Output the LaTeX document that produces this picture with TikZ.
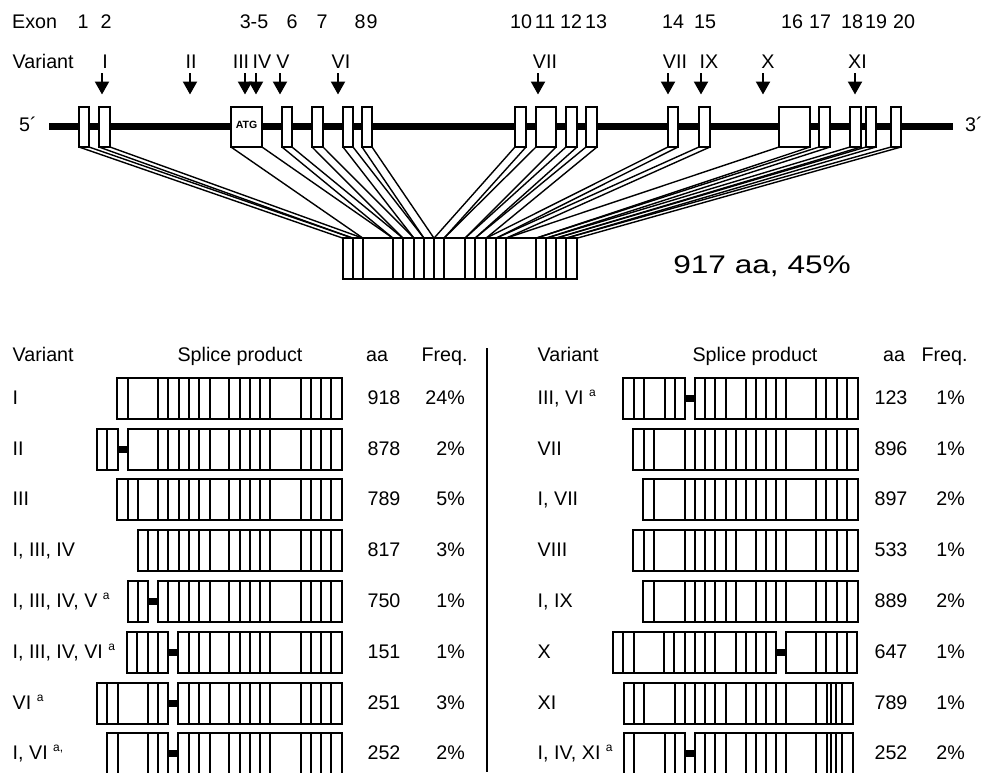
\documentclass[tikz,border=0pt]{standalone}
\usepackage{fontspec}
\setmainfont{Liberation Sans}
\usetikzlibrary{arrows.meta}
\newcommand\supa[1]{\raisebox{8.5pt}{\fontsize{12}{12}\selectfont #1}}
\newcommand\sppiece[4]{%
  \draw[seg] (#2,#1) rectangle (#3,#1+41);
  \foreach \xx in {#4}{\draw[seg] (\xx,#1) -- (\xx,#1+41);}}
\newcommand\spbar[3]{\fill (#2,#1+17) rectangle (#3,#1+24);}
\begin{document}
\begin{tikzpicture}[x=1pt,y=-1pt,
  exon/.style={draw, fill=white, line width=1.8pt, minimum height=40pt, inner sep=0pt, outer sep=0pt},
  pseg/.style={draw, line width=2pt, minimum height=41pt, inner sep=0pt, outer sep=0pt},
  conn/.style={line width=1.4pt},
  gene/.style={line width=6.5pt},
  varrow/.style={line width=2.2pt, -{Triangle[width=14pt,length=13pt]}},
  seg/.style={line width=1.9pt},
  lab/.style={font=\fontsize{19.7}{22}\selectfont, inner sep=0pt, anchor=base}]
\fill[white] (0,0) rectangle (1003,772);
\useasboundingbox (0,0) rectangle (1003,772);

% ---------- gene ----------
\coordinate (g5) at (49,126.7);
\coordinate (g3) at (953,126.7);
\draw[gene] (g5) -- (g3);
\foreach \a/\b [count=\i] in {79/89,99/110,231/262,282/292,312/323,343/353,362/372,515/526,536/556,566/577,586/597,668/678,699/710,779/810,819/830,850/861,866/876,891/901} {
  \pgfmathsetmacro\w{\b-\a}
  \node[exon, minimum width=\w pt] (e\i) at ({(\a+\b)/2},127) {};
}
\node[inner sep=0pt, font=\fontsize{10.5}{11}\selectfont\bfseries] (atg) at ([yshift=2pt]e3.center) {ATG};

% ---------- protein ----------
\foreach \a/\b [count=\i] in {343/353,353/363,363/393,393/403,403/414,414/424,424/434,434/444,444/465,465/475,475/486,486/496,496/506,506/536,536/546,546/556,556/566,566/577} {
  \pgfmathsetmacro\w{\b-\a}
  \node[pseg, minimum width=\w pt] (p\i) at ({(\a+\b)/2},258.7) {};
}
\foreach \i in {1,...,18} {
  \draw[conn] (e\i.south west) -- (p\i.north west);
  \draw[conn] (e\i.south east) -- (p\i.north east);
}
\node[lab, anchor=base west, font=\fontsize{25.5}{30}\selectfont, xscale=1.24] (tot) at (673,273.3) {917 aa, 45\%};

% ---------- top labels ----------
\node[lab, anchor=base west] (exon) at (12,28.3) {Exon};
\foreach \x/\n [count=\i] in {83/1,106/2,254/3-5,292/6,322/7,360/8,372/9,521/10,545/11,571/12,596/13,673/14,705/15,792/16,820/17,852/18,876/19,904/20} {
  \node[lab] (n\i) at (\x,28.3) {\n};
}
\node[lab, anchor=base west] (var) at (12.5,68.3) {Variant};
\foreach \x/\n [count=\i] in {105/I,191/II,241/III,262/IV,283/V,341/VI,545/VII,675/VII,709/IX,768/X,857.5/XI} {
  \node[lab] (v\i) at (\x,68.3) {\n};
}
\foreach \x [count=\i] in {102,190,245,256,280,338,538,668,701,763,855} {
  \coordinate (as\i) at (\x,73);
  \coordinate (ae\i) at (\x,94.5);
  \draw[varrow] (as\i) -- (ae\i);
}
\node[lab, anchor=base west] (five) at (19,131.5) {5´};
\node[lab, anchor=base west] (three) at (965,131.5) {3´};

% ---------- table headers ----------
\node[lab, anchor=base west] (hv1) at (12.5,361.7) {Variant};
\node[lab] (hs1) at (240,361.7) {Splice product};
\node[lab] (ha1) at (377,361.7) {aa};
\node[lab] (hf1) at (444.5,361.7) {Freq.};
\node[lab, anchor=base west] (hv2) at (537.5,361.7) {Variant};
\node[lab] (hs2) at (755,361.7) {Splice product};
\node[lab] (ha2) at (894,361.7) {aa};
\node[lab] (hf2) at (944.5,361.7) {Freq.};
\coordinate (s1) at (487,348);
\coordinate (s2) at (487,772);
\draw[line width=2pt] (s1) -- (s2);

% ---------- left rows ----------
\foreach \t/\v/\a/\f [count=\i] in {378/I/918/24\%, 429/II/878/2\%, 479/III/789/5\%, 530/{I, III, IV}/817/3\%, 581/{I, III, IV, V \supa{a}}/750/1\%, 632/{I, III, IV, VI \supa{a}}/151/1\%, 683/{VI \supa{a}}/251/3\%, 733/{I, VI \supa{a,}}/252/2\%} {
  \node[lab, anchor=base west] (lv\i) at (12.5,\t+26.5) {\v};
  \node[lab] (la\i) at (384,\t+26.5) {\a};
  \node[lab, anchor=base east] (lf\i) at (465,\t+26.5) {\f};
}
\foreach \t/\v/\a/\f [count=\i] in {378/{III, VI \supa{a}}/123/1\%, 429/VII/896/1\%, 479/{I, VII}/897/2\%, 530/VIII/533/1\%, 581/{I, IX}/889/2\%, 632/X/647/1\%, 683/XI/789/1\%, 733/{I, IV, XI \supa{a}}/252/2\%} {
  \node[lab, anchor=base west] (rv\i) at (537.5,\t+26.5) {\v};
  \node[lab] (ra\i) at (891,\t+26.5) {\a};
  \node[lab, anchor=base east] (rf\i) at (965,\t+26.5) {\f};
}

% left splice products
\sppiece{378}{117}{342}{128,158,168,179,189,199,210,229,240,250,260,270,301,311,321,331}
\sppiece{429}{97}{118}{107}
\spbar{429}{118}{128}
\sppiece{429}{128}{342}{158,168,179,189,199,210,229,240,250,260,270,301,311,321,331}
\sppiece{479}{117}{342}{128,138,158,168,179,189,199,210,229,240,250,260,270,301,311,321,331}
\sppiece{530}{138}{342}{148,158,168,179,189,199,210,229,240,250,260,270,301,311,321,331}
\sppiece{581}{128}{148}{138}
\spbar{581}{148}{158}
\sppiece{581}{158}{342}{168,179,189,199,210,229,240,250,260,270,301,311,321,331}
\sppiece{632}{127}{168}{137,148,158}
\spbar{632}{168}{178}
\sppiece{632}{178}{342}{189,199,210,229,240,250,260,270,301,311,321,331}
\sppiece{683}{97}{168}{107,118,148,158}
\spbar{683}{168}{178}
\sppiece{683}{178}{342}{189,199,210,229,240,250,260,270,301,311,321,331}
\sppiece{733}{107}{168}{118,148,158}
\spbar{733}{168}{178}
\sppiece{733}{178}{342}{189,199,210,229,240,250,260,270,301,311,321,331}

% right splice products
\sppiece{378}{623}{685}{634,644,665,675}
\spbar{378}{685}{695}
\sppiece{378}{695}{858}{705,715,726,746,756,766,776,786,816,826,837,847}
\sppiece{429}{633}{858}{644,654,685,695,705,715,726,736,746,756,766,776,786,816,826,837,847}
\sppiece{479}{643}{858}{654,685,695,705,715,726,736,746,756,766,776,786,816,826,837,847}
\sppiece{530}{633}{858}{644,654,685,695,705,715,726,736,756,766,776,786,816,826,837,847}
\sppiece{581}{643}{858}{654,685,695,705,715,726,736,756,766,776,786,816,826,837,847}
\sppiece{632}{613}{776}{623,634,664,674,685,695,705,715,736,746,756,766}
\spbar{632}{776}{786}
\sppiece{632}{786}{857}{816,826,837,847}
\sppiece{683}{624}{853}{634,644,675,685,695,705,715,726,746,756,766,776,786,816,827,831,836,842}
\sppiece{733}{624}{685}{634,665,675}
\spbar{733}{685}{695}
\sppiece{733}{695}{853}{705,715,726,746,756,766,776,786,816,827,831,836,842}
\end{tikzpicture}
\end{document}
